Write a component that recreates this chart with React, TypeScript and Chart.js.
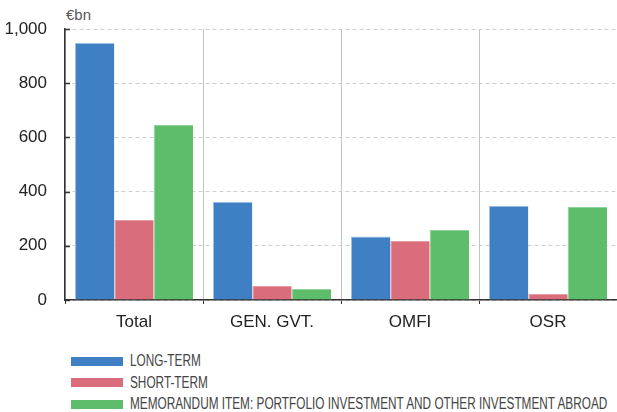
import React, { useEffect, useRef, useState } from "react";
import { Chart, registerables } from "chart.js";

Chart.register(...registerables);

const categories = ["Total", "GEN. GVT.", "OMFI", "OSR"];
const longTerm = [948, 363, 234, 348];
const shortTerm = [295, 52, 218, 22];
const memorandum = [646, 41, 258, 343];
const seriesLabels = [
  "LONG-TERM",
  "SHORT-TERM",
  "MEMORANDUM ITEM: PORTFOLIO INVESTMENT AND OTHER INVESTMENT ABROAD",
];
const yTicks = [0, 200, 400, 600, 800, 1000];
const unitLabel = "€bn";

const colors = ["#3f7fc3", "#d96d7b", "#5ebd6a"];
const borders = ["#9dbfe6", "#e59aa4", "#8fd498"];
const legendFont = "16px 'Liberation Sans', Arial, sans-serif";

const innerTicks = {
  id: "innerTicks",
  afterDraw(chart: any) {
    const { ctx, chartArea, scales } = chart;
    const y = scales.y;
    ctx.save();
    ctx.strokeStyle = "#333";
    ctx.lineWidth = 1.5;
    y.ticks.forEach((t: any) => {
      const py = Math.round(y.getPixelForValue(t.value)) + 0.5;
      ctx.beginPath();
      ctx.moveTo(chartArea.left, py);
      ctx.lineTo(chartArea.left + 5, py);
      ctx.stroke();
    });
    ctx.restore();
  },
};

export default function App() {
  const ref = useRef<HTMLCanvasElement>(null);
  const [scale, setScale] = useState(0.77);
  useEffect(() => {
    document.body.style.margin = "0";
    const mc = document.createElement("canvas").getContext("2d")!;
    mc.font = legendFont;
    const w = mc.measureText(seriesLabels[2]).width;
    if (w > 0) setScale(479 / w);
    const data = [longTerm, shortTerm, memorandum];
    const chart = new Chart(ref.current!, {
      type: "bar",
      data: {
        labels: categories,
        datasets: data.map((d, i) => ({
          label: seriesLabels[i],
          data: d,
          backgroundColor: colors[i],
          borderColor: borders[i],
          borderWidth: { top: 1, left: 1, right: 0, bottom: 0 },
          borderSkipped: false,
          barPercentage: 1,
          categoryPercentage: 0.855,
        })),
      },
      options: {
        animation: false,
        responsive: false,
        maintainAspectRatio: false,
        layout: { padding: { top: 29, left: 0, right: 0, bottom: 0 } },
        plugins: { legend: { display: false }, tooltip: { enabled: false } },
        scales: {
          x: {
            afterFit: (s: any) => {
              s.height = 35;
            },
            grid: {
              color: "#c4c4c4",
              lineWidth: 1,
              offset: true,
              drawTicks: true,
              tickLength: 4,
              tickColor: "#333",
            },
            border: { color: "#333", width: 1.5 },
            ticks: {
              color: "#222",
              padding: 8,
              font: { family: "'Liberation Sans', Arial, sans-serif", size: 17 },
            },
          },
          y: {
            min: 0,
            max: 1000,
            afterBuildTicks: (s: any) => {
              s.ticks = yTicks.map((v) => ({ value: v }));
            },
            afterFit: (s: any) => {
              s.width = 65;
            },
            grid: { color: "#cfcfcf", lineWidth: 1, drawTicks: false },
            border: { color: "#333", width: 1.5, dash: [4, 3] },
            ticks: {
              color: "#222",
              padding: 18,
              font: { family: "'Liberation Sans', Arial, sans-serif", size: 17 },
              callback: (v: any) => Number(v).toLocaleString("en-US"),
            },
          },
        },
      },
      plugins: [innerTicks],
    });
    return () => chart.destroy();
  }, []);

  return (
    <div style={{ position: "absolute", left: 0, top: 0, width: 617, height: 412, overflow: "hidden", background: "#fff", fontFamily: "'Liberation Sans', Arial, sans-serif" }}>
      <div style={{ position: "absolute", left: 66, top: 6, fontSize: 15, color: "#555" }}>{unitLabel}</div>
      <canvas ref={ref} width={617} height={335} style={{ position: "absolute", left: 0, top: 0 }} />
      {seriesLabels.map((l, i) => (
        <div key={l} style={{ position: "absolute", left: 71, top: 353 + i * 21.5, height: 16, display: "flex", alignItems: "center" }}>
          <div style={{ width: 52, height: 9, background: colors[i] }} />
          <div style={{ marginLeft: 7, font: legendFont, color: "#444", whiteSpace: "nowrap", lineHeight: "16px", transform: `scaleX(${scale})`, transformOrigin: "left center" }}>{l}</div>
        </div>
      ))}
    </div>
  );
}
